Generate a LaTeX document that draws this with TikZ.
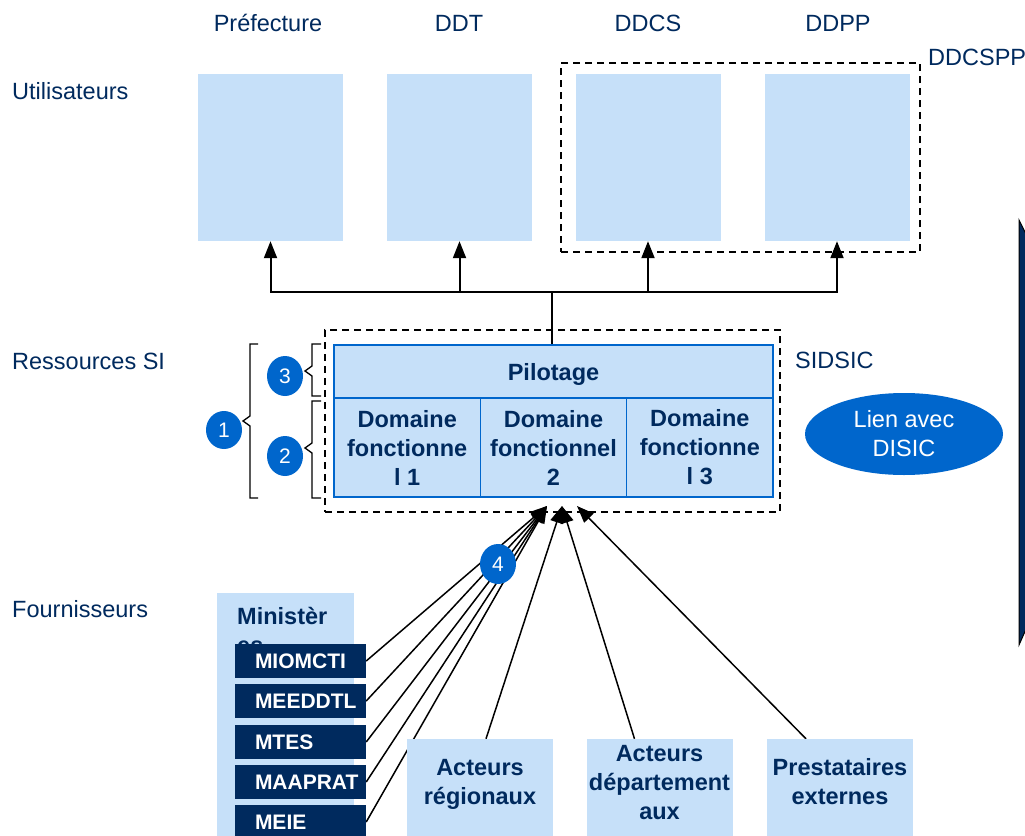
\documentclass[tikz,border=0pt]{standalone}
\usepackage{fontspec}
\setmainfont{Liberation Sans}
\usetikzlibrary{arrows.meta,shapes.geometric}
\pgfdeclarelayer{back}
\pgfdeclarelayer{bg}
\pgfsetlayers{back,bg,main}
\definecolor{lblue}{HTML}{C6E0F9}
\definecolor{navy}{HTML}{002A5E}
\definecolor{mblue}{HTML}{0066CC}
\tikzset{
  every node/.style={font=\fontsize{23.5}{29}\selectfont, inner sep=0pt},
  lbl/.style={text=navy},
  ubox/.style={fill=lblue, minimum width=145, minimum height=167},
  dbox/.style={draw=black, dash pattern=on 7pt off 5pt, line width=1.5pt},
  cell/.style={fill=lblue, draw=mblue, line width=1.5pt, text=navy,
    font=\bfseries\fontsize{23.5}{29}\selectfont},
  dom/.style={cell, align=center},
  bnavy/.style={text=navy, font=\bfseries\fontsize{23.5}{29}\selectfont, align=center},
  nbox/.style={fill=navy, minimum width=131, minimum height=34},
  ntxt/.style={text=white, font=\bfseries\fontsize{21}{25}\selectfont},
  bbox/.style={fill=lblue, minimum width=146, minimum height=100},
  num/.style={ellipse, fill=mblue, text=white, minimum width=36, minimum height=40,
    font=\fontsize{21}{25}\selectfont},
  conn/.style={line width=1.5pt, black, -{Triangle[length=17pt,width=13pt]}},
  busarr/.style={line width=2pt, black, -{Triangle[length=17pt,width=13pt]}},
  plain/.style={line width=2.2pt, black},
  brk/.style={line width=1.3pt, black},
}
\begin{document}
\begin{tikzpicture}[x=1pt,y=-1pt]
\useasboundingbox (0,0) rectangle (1025,835);
\clip (0,0) rectangle (1025,835);
\begin{pgfonlayer}{back}
\fill[white] (0,0) rectangle (1025,835);
\end{pgfonlayer}

% labels
\node[lbl,anchor=base] (tpref) at (268,31.5) {Préfecture};
\node[lbl,anchor=base] (tddt) at (459,31.5) {DDT};
\node[lbl,anchor=base] (tddcs) at (648,31.5) {DDCS};
\node[lbl,anchor=base] (tddpp) at (838,31.5) {DDPP};
\node[lbl,anchor=base west] (tddcspp) at (928,65) {DDCSPP};
\node[lbl,anchor=base west] (tutil) at (12,99) {Utilisateurs};
\node[lbl,anchor=base west] (tress) at (12,369) {Ressources SI};
\node[lbl,anchor=base west] (tfour) at (12,617) {Fournisseurs};
\node[lbl,anchor=base west] (tsidsic) at (795,368) {SIDSIC};

% user boxes
\node[ubox] (pref) at (270.5,157.5) {};
\node[ubox] (ddt) at (459.5,157.5) {};
\node[ubox] (ddcs) at (648,157.5) {};
\node[ubox] (ddpp) at (837,157.5) {};
\node[dbox, minimum width=359, minimum height=189] (ddcspp) at (740.5,157.5) {};

% SI resources
\node[dbox, minimum width=455, minimum height=182] (sidsic) at (552.5,421) {};
\node[cell, minimum width=439, minimum height=53, text depth=0pt] (pilot) at (553.5,371.5) {Pilotage};
\node[dom, minimum width=146.33, minimum height=99] (d1) at (407.2,447.5) {Domaine\\fonctionne\\l 1};
\node[dom, minimum width=146.33, minimum height=99] (d2) at (553.5,447.5) {Domaine\\fonctionnel\\2};
\node[dom, minimum width=146.33, minimum height=99] (d3) at (699.8,447.5) {Domaine\\fonctionne\\l 3};

% bus
\coordinate (hub) at (552,292);
\draw[plain] (hub) -- (hub |- pilot.north);
\draw[busarr] (hub) -| (pref.south);
\draw[busarr] (hub) -| (ddt.south);
\draw[busarr] (hub) -| (ddcs.south);
\draw[busarr] (hub) -| (ddpp.south);

% brackets
\draw[brk] (258,344) -- (250,344) -- (250,416) -- (243,421) -- (250,426) -- (250,498) -- (258,498);
\draw[brk] (321,344) -- (312,344) -- (312,366) -- (305,371) -- (312,376) -- (312,396) -- (321,396);
\draw[brk] (321,401) -- (312,401) -- (312,443) -- (305,448) -- (312,453) -- (312,498) -- (321,498);
\node[num, minimum height=38] (c1) at (224,430) {1};
\node[num] (c3) at (285,376) {3};
\node[num] (c2) at (285,456) {2};

% DISIC link
\node[ellipse, fill=mblue, text=white, minimum width=198, minimum height=82, align=center] (disic) at (904,434) {Lien avec\\DISIC};

% right edge shape
\filldraw[fill=navy, draw=black, line width=1pt] (1019,220) -- (1019,645) -- (1027,627) -- (1027,236) -- cycle;

% suppliers
\node[fill=lblue, minimum width=137, minimum height=260, anchor=north west] (minbox) at (217,593) {};
\node[bnavy, anchor=north west, align=left] (mintxt) at (237,607.5) {Ministèr\\es};
\node[nbox] (miomcti) at (300.5,661) {};
\node[nbox] (meeddtl) at (300.5,701) {};
\node[nbox] (mtes) at (300.5,742) {};
\node[nbox] (maaprat) at (300.5,782) {};
\node[nbox] (meie) at (300.5,822) {};
\node[ntxt, anchor=west] (tmiomcti) at ([xshift=20pt]miomcti.west) {MIOMCTI};
\node[ntxt, anchor=west] (tmeeddtl) at ([xshift=20pt]meeddtl.west) {MEEDDTL};
\node[ntxt, anchor=west] (tmtes) at ([xshift=20pt]mtes.west) {MTES};
\node[ntxt, anchor=west] (tmaaprat) at ([xshift=20pt]maaprat.west) {MAAPRAT};
\node[ntxt, anchor=west] (tmeie) at ([xshift=20pt]meie.west) {MEIE};

\node[bbox] (areg) at (480,789) {};
\node[bbox] (adep) at (659.5,789) {};
\node[bbox] (pext) at (840,789) {};
\node[bnavy] (tareg) at (480,784) {Acteurs\\régionaux};
\node[bnavy] (tadep) at (659.5,782.5) {Acteurs\\département\\aux};
\node[bnavy] (tpext) at (840,782) {Prestataires\\externes};

% supplier connectors
\coordinate (tL) at (547,506);
\coordinate (tM) at (562,506);
\coordinate (tR) at (577,506);
\begin{pgfonlayer}{bg}
\draw[conn] (miomcti.east) -- (tL);
\draw[conn] (meeddtl.east) -- (tL);
\draw[conn] (mtes.east) -- (tL);
\draw[conn] (maaprat.east) -- (tL);
\draw[conn] (meie.east) -- (tL);
\draw[conn] ([xshift=6pt]areg.north) -- (tM);
\draw[conn] ([xshift=-25pt]adep.north) -- (tM);
\draw[conn] ([xshift=-34pt]pext.north) -- (tR);
\end{pgfonlayer}
\node[num] (c4) at (498,564) {4};
\end{tikzpicture}
\end{document}
